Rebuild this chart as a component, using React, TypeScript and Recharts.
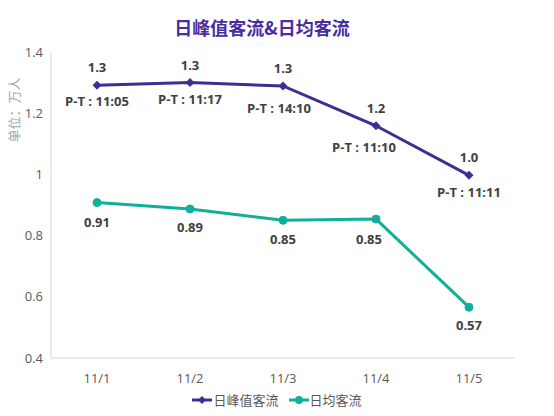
import type { ReactElement } from "react";
import { Line, LineChart, XAxis, YAxis } from "recharts";

const DATES = ["11/1", "11/2", "11/3", "11/4", "11/5"];
const PEAK_FLOW = [1.291, 1.3, 1.289, 1.159, 0.997];
const AVG_FLOW = [0.908, 0.887, 0.85, 0.854, 0.566];
const PEAK_TIMES = ["11:05", "11:17", "14:10", "11:10", "11:11"];
const Y_TICKS = [0.4, 0.6, 0.8, 1, 1.2, 1.4];

const PEAK_NAME = "日峰值客流";
const AVG_NAME = "日均客流";

const PEAK_COLOR = "#3d2e91";
const AVG_COLOR = "#0fb09a";
const LABEL_COLOR = "#404040";
const AXIS_TEXT = "#595959";
const FONT = "'Open Sans', 'Noto Sans CJK SC', sans-serif";

// small hand nudges so the P-T labels sit where the original puts them
const PT_NUDGE = [
  { dx: 0, dy: 16 },
  { dx: 0, dy: 16 },
  { dx: -4, dy: 22 },
  { dx: -12, dy: 21 },
  { dx: 0, dy: 17 },
];
const AVG_NUDGE = [
  { dx: 0, dy: 19 },
  { dx: 0, dy: 18 },
  { dx: 0, dy: 19 },
  { dx: -7, dy: 20 },
  { dx: 0, dy: 18 },
];

const data = DATES.map((date, i) => ({
  date,
  peak: PEAK_FLOW[i],
  avg: AVG_FLOW[i],
  time: PEAK_TIMES[i],
}));

function Diamond(props: any): ReactElement | null {
  const { cx, cy } = props;
  if (cx == null || cy == null) return null;
  const r = 4.5;
  return (
    <path
      d={`M${cx},${cy - r} L${cx + r},${cy} L${cx},${cy + r} L${cx - r},${cy} Z`}
      fill={PEAK_COLOR}
    />
  );
}

function PeakLabel(props: any): ReactElement | null {
  const { x, y, value, index } = props;
  if (x == null || y == null) return null;
  const nudge = PT_NUDGE[index] ?? { dx: 0, dy: 17 };
  return (
    <g fontFamily={FONT} fontSize={13} fontWeight={700} fill={LABEL_COLOR}>
      <text x={x} y={y - 18} textAnchor="middle" dominantBaseline="central">
        {Number(value).toFixed(1)}
      </text>
      <text x={x + nudge.dx} y={y + nudge.dy} textAnchor="middle" dominantBaseline="central">
        {`P-T : ${PEAK_TIMES[index]}`}
      </text>
    </g>
  );
}

function AvgLabel(props: any): ReactElement | null {
  const { x, y, value, index } = props;
  if (x == null || y == null) return null;
  const nudge = AVG_NUDGE[index] ?? { dx: 0, dy: 19 };
  return (
    <text
      x={x + nudge.dx}
      y={y + nudge.dy}
      textAnchor="middle"
      dominantBaseline="central"
      fontFamily={FONT}
      fontSize={13}
      fontWeight={700}
      fill={LABEL_COLOR}
    >
      {Number(value).toFixed(2)}
    </text>
  );
}

function UnitLabel(): ReactElement {
  return (
    <text
      x={14}
      y={110}
      transform="rotate(-90 14 110)"
      textAnchor="middle"
      dominantBaseline="central"
      fontFamily={FONT}
      fontSize={13}
      fill="#a6a6a6"
    >
      单位：万人
    </text>
  );
}

function LegendIcon({ color, diamond }: { color: string; diamond: boolean }): ReactElement {
  return (
    <svg width={20} height={10} style={{ marginRight: 1 }}>
      <line x1={0} y1={5} x2={20} y2={5} stroke={color} strokeWidth={3} />
      {diamond ? (
        <path d="M10,1 L14,5 L10,9 L6,5 Z" fill={color} />
      ) : (
        <circle cx={10} cy={5} r={4} fill={color} />
      )}
    </svg>
  );
}

function ChartLegend(): ReactElement {
  const items = [
    { name: PEAK_NAME, color: PEAK_COLOR, diamond: true },
    { name: AVG_NAME, color: AVG_COLOR, diamond: false },
  ];
  return (
    <div
      style={{
        position: "absolute",
        left: 0,
        top: 390,
        width: 554,
        display: "flex",
        justifyContent: "center",
        gap: 10,
        fontFamily: FONT,
        fontSize: 13,
        color: AXIS_TEXT,
        lineHeight: "20px",
      }}
    >
      {items.map((item) => (
        <span key={item.name} style={{ display: "flex", alignItems: "center" }}>
          <LegendIcon color={item.color} diamond={item.diamond} />
          {item.name}
        </span>
      ))}
    </div>
  );
}

export default function App(): ReactElement {
  return (
    <div style={{ position: "absolute", left: 0, top: 0, width: 554, height: 416, background: "#fff" }}>
      <div
        style={{
          position: "absolute",
          left: 0,
          top: 14,
          width: 524,
          textAlign: "center",
          fontFamily: "'Noto Sans CJK SC', sans-serif",
          fontWeight: 700,
          fontSize: 18,
          color: "#4a2ca0",
          lineHeight: "26px",
        }}
      >
        日峰值客流&amp;日均客流
      </div>
      <LineChart
        width={554}
        height={416}
        data={data}
        margin={{ top: 52, right: 39, bottom: 28, left: 0 }}
      >
        <XAxis
          dataKey="date"
          padding={{ left: 46, right: 46 }}
          axisLine={{ stroke: "#d9d9d9" }}
          tickLine={false}
          tickMargin={10}
          tick={{ fill: AXIS_TEXT, fontSize: 13, fontFamily: FONT }}
        />
        <YAxis
          width={51}
          domain={[0.4, 1.4]}
          ticks={Y_TICKS}
          axisLine={{ stroke: "#d9d9d9" }}
          tickLine={false}
          tick={{ fill: AXIS_TEXT, fontSize: 13, fontFamily: FONT }}
          label={<UnitLabel />}
        />
        <Line
          name={PEAK_NAME}
          dataKey="peak"
          stroke={PEAK_COLOR}
          strokeWidth={3}
          dot={<Diamond />}
          activeDot={false}
          label={<PeakLabel />}
          isAnimationActive={false}
        />
        <Line
          name={AVG_NAME}
          dataKey="avg"
          stroke={AVG_COLOR}
          strokeWidth={3}
          dot={{ r: 4, fill: AVG_COLOR, stroke: AVG_COLOR, strokeWidth: 1 }}
          activeDot={false}
          label={<AvgLabel />}
          isAnimationActive={false}
        />
      </LineChart>
      <ChartLegend />
    </div>
  );
}
